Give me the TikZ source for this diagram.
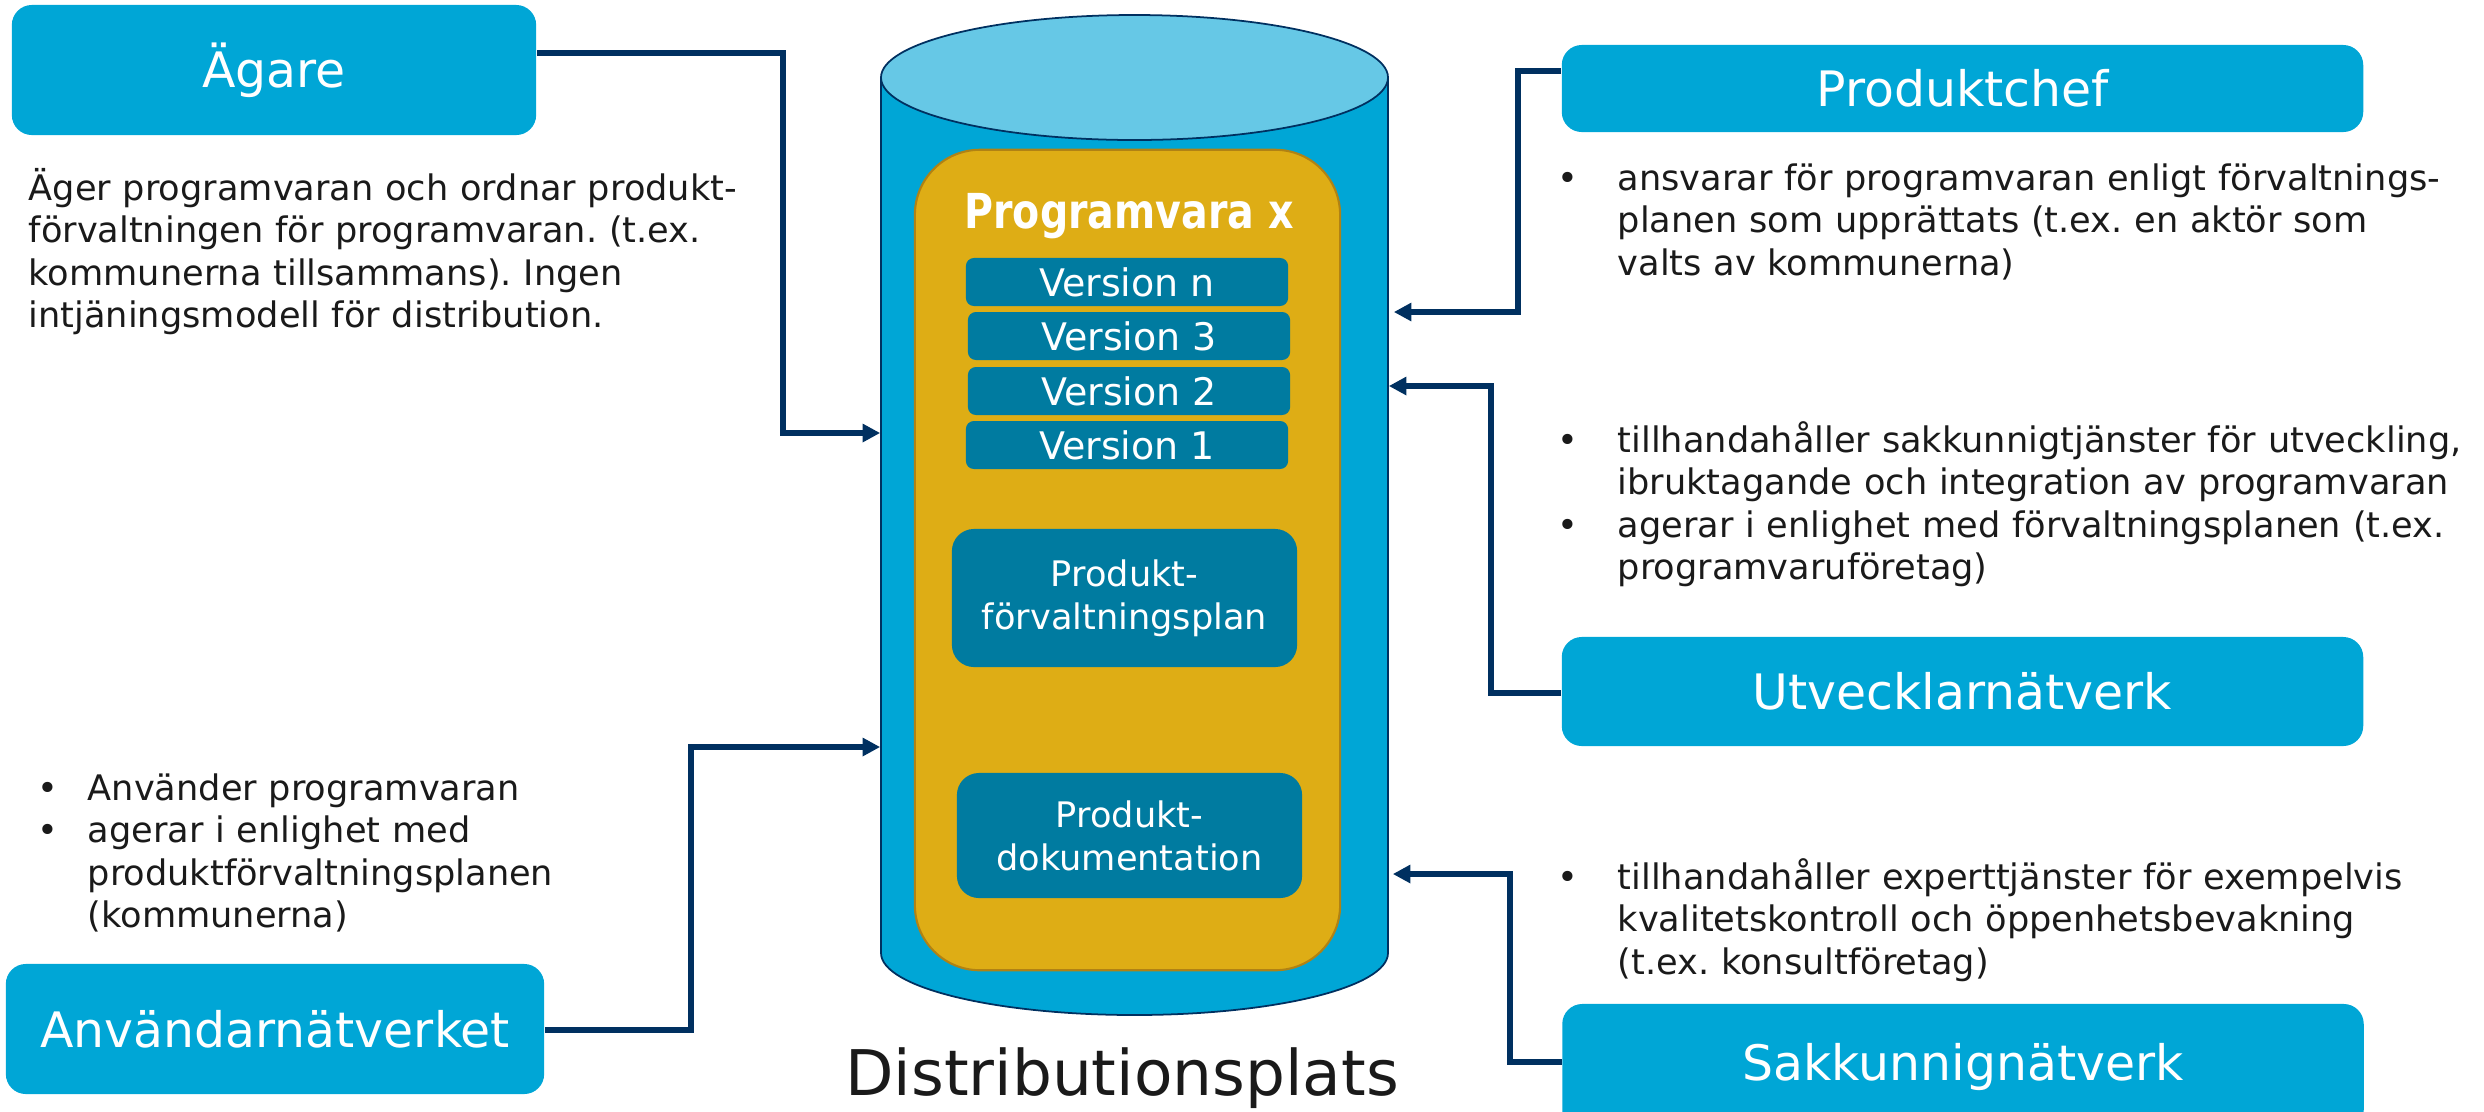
\documentclass[tikz,border=0pt]{standalone}
\usepackage{fontspec}
\setmainfont{DejaVu Sans}
\newfontfamily\titlefont{DejaVu Sans}[FakeStretch=0.82]
\usetikzlibrary{arrows.meta,calc}
\definecolor{boxblue}{RGB}{0,166,214}
\definecolor{cyltop}{RGB}{102,200,230}
\definecolor{gold}{RGB}{222,173,21}
\definecolor{golddark}{RGB}{176,130,20}
\definecolor{teal}{RGB}{0,123,160}
\definecolor{navy}{RGB}{0,48,96}
\definecolor{ink}{RGB}{26,26,26}
\frenchspacing
\newcommand{\boxfont}{\fontsize{13.9}{16}\selectfont}
\newcommand{\descfont}{\fontsize{10}{12.1}\selectfont}
\newcommand{\verfont}{\fontsize{10.8}{12}\selectfont}
\newcommand{\planfont}{\fontsize{10}{12.2}\selectfont}
\newcommand{\itm}{\makebox[0.6cm][l]{\textbullet}}
\newcommand{\ind}{\hspace*{0.6cm}}
\tikzset{
  actor/.style={rounded corners=0.2cm, fill=boxblue, text=white, font=\boxfont, inner sep=0},
  desc/.style={anchor=base west, align=left, text=ink, font=\descfont, inner sep=0},
  ver/.style={rounded corners=0.08cm, fill=teal, text=white, font=\verfont,
    minimum width=3.22cm, minimum height=0.48cm, inner sep=0},
  part/.style={rounded corners=0.22cm, fill=teal, text=white, font=\planfont,
    align=center, minimum width=3.45cm, inner sep=0},
  link/.style={draw=navy, line width=1.5pt, -{Triangle[length=5pt,width=5pt]}}
}
\begin{document}
\begin{tikzpicture}[x=0.01cm,y=-0.01cm]
\useasboundingbox (0,0) rectangle (2484,1111);

\fill[boxblue, draw=navy, line width=0.5pt] (881,77.5) -- (881,953)
  arc[start angle=180, end angle=0, x radius=253.5, y radius=62] -- (1388,77.5) -- cycle;
\draw[navy, line width=0.5pt, fill=cyltop] (1134.5,77.5) ellipse [x radius=253.5, y radius=62.5];
\node[minimum width=5.07cm, minimum height=8.755cm, inner sep=0] (dist) at (1134.5,515.25) {};

\node[rounded corners=0.65cm, fill=gold, draw=golddark, line width=0.6pt,
  minimum width=4.25cm, minimum height=8.2cm, inner sep=0] (pkg) at (1127.5,560) {};
\node[anchor=base, text=white, font=\titlefont\bfseries\fontsize{13.7}{15}\selectfont] (title) at (1129,228) {Programvara x};

\node[ver] (vn) at (1127,282) {Version n};
\node[ver] (v3) at (1129,336) {Version 3};
\node[ver] (v2) at (1129,391) {Version 2};
\node[ver] (v1) at (1127,445) {Version 1};

\node[part, minimum height=1.38cm] (plan) at (1124.5,598) {Produkt-\\förvaltningsplan};
\node[part, minimum height=1.25cm] (doc) at (1129.5,835.5) {Produkt-\\dokumentation};

\node[anchor=base, text=ink, font=\fontsize{17.9}{20}\selectfont] (distlabel) at (1122,1095) {Distributionsplats};

\node[actor, minimum width=5.24cm, minimum height=1.3cm] (ager) at (274,70) {Ägare};
\node[actor, minimum width=8.01cm, minimum height=0.87cm] (chef) at (1962.5,88.5) {Produktchef};
\node[actor, minimum width=8.01cm, minimum height=1.09cm] (utv) at (1962.5,691.5) {Utvecklarnätverk};
\node[actor, minimum width=8.01cm, minimum height=1.26cm] (sak) at (1963,1067) {Sakkunnignätverk};
\node[actor, minimum width=5.38cm, minimum height=1.3cm] (anv) at (275,1029) {Användarnätverket};

\node[desc, text width=8cm] (agertxt) at (28,200) {Äger programvaran och ordnar produkt-\\förvaltningen för programvaran. (t.ex.\\kommunerna tillsammans). Ingen\\intjäningsmodell för distribution.};
\node[desc, text width=9.2cm] (cheftxt) at (1557,190) {\itm ansvarar för programvaran enligt förvaltnings-\\\ind planen som upprättats (t.ex. en aktör som\\\ind valts av kommunerna)};
\node[desc, text width=9.2cm] (utvtxt) at (1557,452) {\itm tillhandahåller sakkunnigtjänster för utveckling,\\\ind ibruktagande och integration av programvaran\\\itm agerar i enlighet med förvaltningsplanen (t.ex.\\\ind programvaruföretag)};
\node[desc, text width=9.2cm] (saktxt) at (1557,889) {\itm tillhandahåller experttjänster för exempelvis\\\ind kvalitetskontroll och öppenhetsbevakning\\\ind (t.ex. konsultföretag)};
\node[desc, text width=7cm] (anvtxt) at (37,800) {\makebox[0.5cm][l]{\textbullet}Använder programvaran\\\makebox[0.5cm][l]{\textbullet}agerar i enlighet med\\\hspace*{0.5cm}produktförvaltningsplanen\\\hspace*{0.5cm}(kommunerna)};

\draw[link] (ager.east |- 0,53) -| (783,433) -- (dist.west |- 0,433);
\draw[link] (chef.west |- 0,71) -| (1518,312) -- ([xshift=0.05cm]dist.east |- 0,312);
\draw[link] (utv.west |- 0,693) -| (1491,386) -- (dist.east |- 0,386);
\draw[link] (sak.west |- 0,1062) -| (1510,874) -- ([xshift=0.04cm]dist.east |- 0,874);
\draw[link] (anv.east |- 0,1030) -| (691,747) -- (dist.west |- 0,747);
\end{tikzpicture}
\end{document}
